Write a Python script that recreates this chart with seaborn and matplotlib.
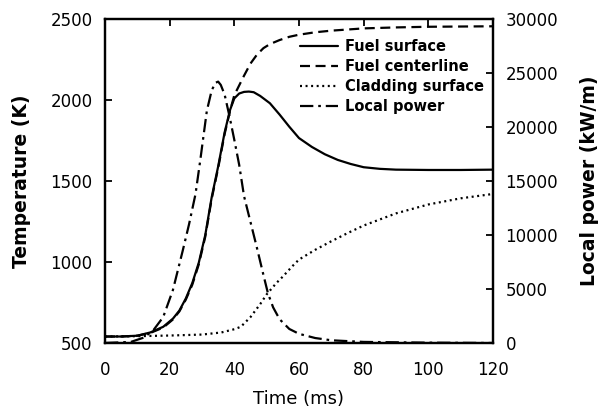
import numpy as np
import pandas as pd
import matplotlib
matplotlib.use("Agg")
import matplotlib.pyplot as plt
import seaborn as sns

# ---- data ----
t_surf = [0, 5, 10, 14, 18, 21, 23, 25, 27, 29, 31, 33, 35, 37, 38.7, 40, 41.5, 43, 44.5,
          46, 48, 51, 54, 57, 60, 64, 68, 72, 76, 80, 85, 90, 100, 110, 120]
T_surf = [540, 540, 545, 565, 600, 650, 700, 775, 870, 995, 1165, 1400, 1590, 1800, 1940,
          2010, 2040, 2050, 2052, 2048, 2025, 1980, 1910, 1835, 1765, 1710, 1665, 1630,
          1605, 1585, 1575, 1570, 1568, 1568, 1570]

t_cent = [0, 5, 10, 14, 18, 21, 23, 25, 27, 29, 31, 33, 35, 37, 38.7, 40, 41.5, 43, 45,
          47, 49, 51, 54, 57, 60, 65, 70, 80, 90, 100, 120]
T_cent = [540, 540, 545, 562, 595, 645, 695, 768, 860, 985, 1155, 1390, 1580, 1790, 1935,
          2030, 2090, 2150, 2225, 2280, 2320, 2345, 2370, 2390, 2403, 2418, 2428, 2442,
          2448, 2452, 2455]

t_clad = [0, 10, 20, 30, 36, 40, 42, 45, 48, 50, 53, 55, 58, 60, 65, 70, 75, 80, 90,
          100, 110, 120]
T_clad = [540, 542, 546, 552, 565, 585, 600, 660, 740, 800, 870, 910, 975, 1015, 1075,
          1128, 1178, 1225, 1300, 1355, 1393, 1420]

t_pow = [0, 8, 12, 15, 18, 21, 24, 26, 28, 29.5, 31.5, 33, 34.2, 35, 35.8, 37, 38.5,
         40, 41.5, 43, 45, 47, 49, 50.4, 52, 54, 57, 60, 65, 70, 80, 100, 120]
P_pow = [0, 100, 500, 1200, 2400, 4900, 8500, 11000, 13800, 17000, 21500, 23400, 24100,
         24200, 23900, 23000, 21000, 18800, 16500, 13600, 11200, 8800, 6300, 4600, 3300,
         2200, 1300, 850, 460, 250, 100, 30, 0]

labels = ["Fuel surface", "Fuel centerline", "Cladding surface", "Local power"]
x_ticks = [0, 20, 40, 60, 80, 100, 120]
y_ticks = [500, 1000, 1500, 2000, 2500]
y2_ticks = [0, 5000, 10000, 15000, 20000, 25000, 30000]

sns.set_style("white")
plt.rcParams["font.family"] = ["DejaVu Sans"]
for k in ("text.color", "axes.labelcolor", "xtick.color", "ytick.color"):
    plt.rcParams[k] = "black"

fig = plt.figure(figsize=(5.99, 4.12), dpi=100)
ax = fig.add_axes([0.1753, 0.1675, 0.6477, 0.7864])
ax2 = ax.twinx()

lw = 1.6
sns.lineplot(x=t_surf, y=T_surf, ax=ax, color="k", lw=lw, label=labels[0])
sns.lineplot(x=t_cent, y=T_cent, ax=ax, color="k", lw=lw, label=labels[1])
ax.lines[1].set_dashes([4.5, 2.5])
sns.lineplot(x=t_clad, y=T_clad, ax=ax, color="k", lw=lw, label=labels[2])
ax.lines[2].set_dashes([0.9, 1.6])
sns.lineplot(x=t_pow, y=P_pow, ax=ax2, color="k", lw=lw, label=labels[3])
ax2.lines[0].set_dashes([6, 2.2, 1.2, 2.2])

ax.set_xlim(0, 120)
ax.set_ylim(500, 2500)
ax2.set_ylim(0, 30000)
ax.set_xticks(x_ticks)
ax.set_yticks(y_ticks)
ax2.set_yticks(y2_ticks)

fs = 12
ax.tick_params(axis="both", direction="in", length=5, width=1.3, labelsize=fs,
               top=True, pad=9, colors="k")
ax.tick_params(axis="x", pad=13)
ax2.tick_params(axis="y", direction="in", length=5, width=1.3, labelsize=fs, pad=9,
                colors="k")
for a in (ax, ax2):
    for s in a.spines.values():
        s.set_linewidth(1.6)
        s.set_color("k")

ax.set_xlabel("Time (ms)", fontsize=13, labelpad=8)
ax.set_ylabel("Temperature (K)", fontsize=13.5, fontweight="bold", labelpad=14)
ax2.set_ylabel("Local power (kW/m)", fontsize=13.5, fontweight="bold", labelpad=16)

h1, lab1 = ax.get_legend_handles_labels()
h2, lab2 = ax2.get_legend_handles_labels()
if ax.get_legend() is not None:
    ax.get_legend().remove()
if ax2.get_legend() is not None:
    ax2.get_legend().remove()
ax2.legend(h1 + h2, lab1 + lab2, loc="upper right", bbox_to_anchor=(1.0, 0.965),
           frameon=False, handlelength=2.6, handletextpad=0.5,
           labelspacing=0.35, borderaxespad=0.2, prop={"weight": "bold", "size": 10.5})

fig.savefig("out.png", dpi=100, facecolor="white")
